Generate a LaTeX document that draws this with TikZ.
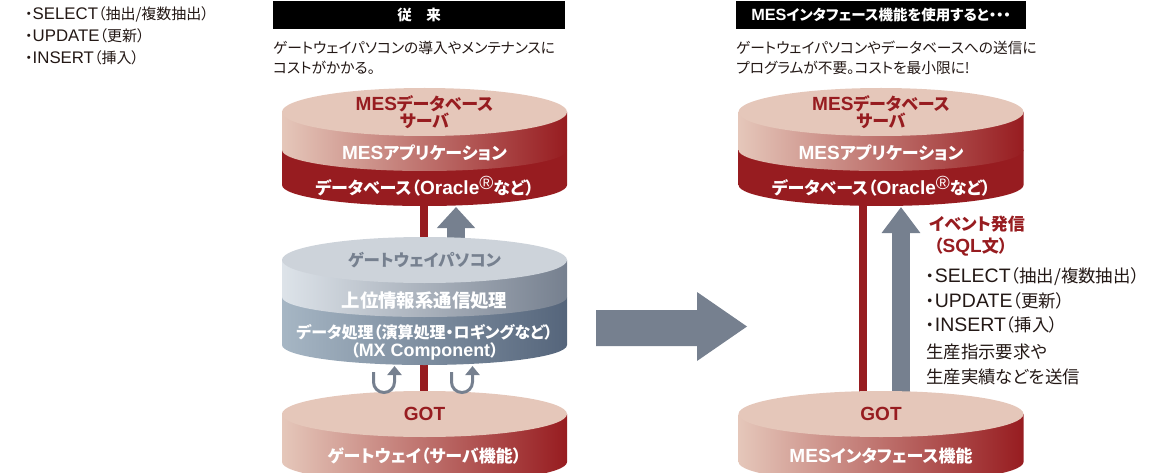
\documentclass[tikz,border=0pt]{standalone}
\usepackage{fontspec}
\setmainfont[RawFeature=+palt]{Noto Sans CJK JP}
\newfontfamily\lat[Scale=1.12]{Liberation Sans}
\usetikzlibrary{positioning, arrows.meta, shapes.geometric, backgrounds}

\definecolor{mesred}{HTML}{971C20}
\definecolor{peach}{HTML}{E5C7BA}
\definecolor{slate}{HTML}{76808F}
\definecolor{paleslate}{HTML}{CDD3DA}
\definecolor{mistslate}{HTML}{DDE3E9}
\definecolor{blueslate}{HTML}{A6B6C4}
\definecolor{deepslate}{HTML}{55657B}
\definecolor{inktext}{HTML}{231815}

\newcommand{\reg}{\raisebox{.3em}{\lat\mdseries ®}}
% centre x, upper y, lower y, arc height, left colour, right colour
\newcommand{\rimband}[6]{
    \path[left color=#5, right color=#6] (#1-142.5,#2) -- (#1+142.5,#2) -- (#1+142.5,#3)
        arc[start angle=0, end angle=180, x radius=142.5, y radius=#4] -- cycle;
}

\tikzset{
    diskface/.style={ellipse, minimum width=285pt, minimum height=#1, inner sep=0pt, align=center},
    disktitle/.style={font=\bfseries\fontsize{17}{15.5}\selectfont, text=mesred},
    bandtext/.style={font=\bfseries\fontsize{17}{19}\selectfont, text=white, align=center},
    headbar/.style={fill=black, text=white, font=\bfseries\fontsize{14.5}{15}\selectfont, minimum height=28pt, inner sep=0pt},
    caption/.style={font=\fontsize{14.7}{20}\selectfont, text=inktext, align=left, anchor=north west, inner sep=0pt},
    sidetext/.style={font=\fontsize{17.4}{19}\selectfont, text=inktext, anchor=west, inner sep=0pt},
    toptext/.style={font=\fontsize{15}{17}\selectfont, text=inktext, anchor=west, inner sep=0pt},
    redline/.style={draw=mesred, line width=8pt},
    greyarrow/.style={draw=slate, line width=18pt, -{Triangle[width=37pt, length=#1]}},
    turnarrow/.style={draw=slate, line width=3pt, -{Triangle[width=14pt, length=9pt]}},
}

\begin{document}
\begin{tikzpicture}[x=1pt, y=-1pt]
    \clip (0,0) rectangle (1166,473);

    % database and GOT disks, both sides
    \foreach \cx/\nm in {424.5/l, 881/r} {
        \rimband{\cx}{150}{185}{21}{mesred}{mesred}
        \rimband{\cx}{112}{150}{21}{peach}{mesred}
        \node[diskface=48pt, fill=peach, disktitle] (\nm db) at (\cx,112) {\raisebox{-1pt}{{\lat MES}データベース}\\\raisebox{-1pt}{サーバ}};
        \node[bandtext] (\nm app) at (\cx,153) {{\lat MES}アプリケーション};
        \node[bandtext] (\nm store) at (\cx,186) {データベース（{\lat Oracle}\reg など）};
        \rimband{\cx}{414}{462}{21}{peach}{mesred}
        \node[diskface=46pt, fill=peach, disktitle] (\nm got) at (\cx,414) {\raisebox{-3pt}{\lat GOT}};
    }
    \node[bandtext] (lgotfn) at (424.5,456) {ゲートウェイ（サーバ機能）};
    \node[bandtext] (rgotfn) at (881,456) {{\lat MES}インタフェース機能};

    % gateway PC disk
    \rimband{424.5}{297}{345}{20}{blueslate}{deepslate}
    \rimband{424.5}{260}{297}{20}{mistslate}{slate}
    \node[diskface=46pt, fill=paleslate, disktitle, text=slate, font=\bfseries\fontsize{16.5}{19}\selectfont] (lgw) at (424.5,260) {\raisebox{-3pt}{ゲートウェイパソコン}};
    \node[bandtext, font=\bfseries\fontsize{18.4}{19}\selectfont] (lhost) at (424.5,301) {上位情報系通信処理};
    \node[bandtext, font=\bfseries\fontsize{16}{19}\selectfont] (ldata) at (424.5,332) {データ処理（演算処理・ロギングなど）};
    \node[bandtext, font=\bfseries\fontsize{16}{19}\selectfont] (lmx) at (424.5,351) {（{\lat MX Component}）};

    % connectors behind the disks
    \coordinate (ltip) at (456,207);
    \coordinate (rtip) at (901,207);
    \begin{scope}[on background layer]
        \draw[redline] ([xshift=-.5pt]ldb.center) -- ([xshift=-.5pt]lgw.center);
        \draw[redline] ([xshift=-.5pt]lgw.center) -- ([xshift=-.5pt]lgot.center);
        \draw[greyarrow=21pt] (lgw.center -| ltip) -- (ltip);
        \draw[redline] ([xshift=-18pt]rdb.center) -- ([xshift=-18pt]rgot.center);
        \draw[greyarrow=26pt] (rgot.center -| rtip) -- (rtip);
    \end{scope}

    % turn arrows
    \coordinate (ua) at (373.5,372);
    \coordinate (ub) at (451.5,372);
    \foreach \st in {ua, ub} {
        \draw[turnarrow] (\st) -- ++(0,10) arc[start angle=180, end angle=0, radius=10.5] -- ++(0,-16);
    }

    % big arrow
    \fill[slate] (596,310) -- (697,310) -- (697,292) -- (747,326.5) -- (697,361) -- (697,346) -- (596,346) -- cycle;

    % headings
    \node[headbar, minimum width=292pt] (lhead) at (419,15) {従　来};
    \node[headbar, minimum width=290pt] (rhead) at (881,15) {{\lat MES}インタフェース機能を使用すると・・・};
    \node[caption] (lcap) at (273,41) {ゲートウェイパソコンの導入やメンテナンスに\\コストがかかる。};
    \node[caption] (rcap) at (736,41) {ゲートウェイパソコンやデータベースへの送信に\\プログラムが不要。コストを最小限に!};

    % right hand notes
    \node[disktitle, inner sep=0pt, anchor=west] (evt) at (929,224) {イベント発信};
    \node[disktitle, inner sep=0pt, anchor=west] (sql) at (934,247) {（{\lat SQL}文）};
    \node[sidetext] (sel) at (926,277) {・{\lat SELECT}（抽出/複数抽出）};
    \node[sidetext, below=24pt of sel.west, anchor=west] (upd) {・{\lat UPDATE}（更新）};
    \node[sidetext, below=24pt of upd.west, anchor=west] (ins) {・{\lat INSERT}（挿入）};
    \node[sidetext, below=27pt of ins.west, anchor=west] (req) {生産指示要求や};
    \node[sidetext, below=25pt of req.west, anchor=west] (res) {生産実績などを送信};

    % top left list
    \node[toptext] (tsel) at (25,14) {・{\lat SELECT}（抽出/複数抽出）};
    \node[toptext, below=22pt of tsel.west, anchor=west] (tupd) {・{\lat UPDATE}（更新）};
    \node[toptext, below=22pt of tupd.west, anchor=west] (tins) {・{\lat INSERT}（挿入）};
\end{tikzpicture}
\end{document}
